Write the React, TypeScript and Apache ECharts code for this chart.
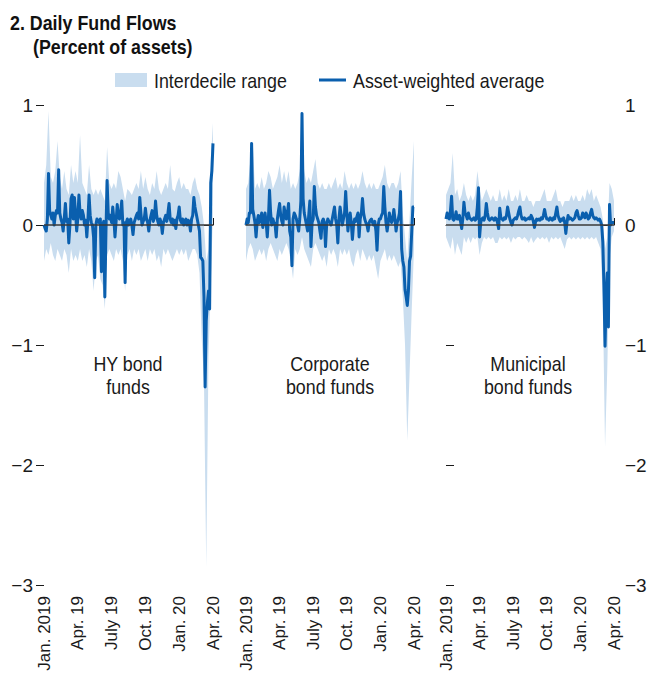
import React, { useEffect, useRef } from "react";
import * as echarts from "echarts";

// x is measured in months since Jan. 2019
const tickMonths = [0, 3, 6, 9, 12, 15];
const tickLabels = ["Jan. 2019", "Apr. 19", "July 19", "Oct. 19", "Jan. 20", "Apr. 20"];
const panelNames = ["HY bond\nfunds", "Corporate\nbond funds", "Municipal\nbond funds"];
const avgStep = 0.1; // months between average points
const bandStep = 0.2; // months between interdecile points

const hyAvg = [
  0.0, -0.03, -0.05, 0.05, 0.43, 0.12, 0.08, 0.05, 0.1, 0.0,
  0.08, 0.12, 0.1, 0.46, 0.1, 0.05, 0.02, -0.05, 0.06, 0.18,
  0.03, 0.05, -0.15, 0.0, 0.22, 0.25, 0.05, 0.23, 0.1, -0.05,
  0.05, 0.25, 0.1, 0.05, 0.12, 0.08, 0.0, 0.04, -0.1, 0.05,
  0.25, 0.08, 0.02, 0.0, -0.1, -0.44, 0.0, 0.05, 0.03, 0.02,
  0.05, -0.39, 0.0, 0.03, -0.6, -0.05, 0.37, 0.1, 0.05, 0.08,
  0.02, 0.15, 0.05, -0.1, 0.03, 0.17, 0.08, 0.05, 0.1, 0.2,
  0.0, 0.02, -0.48, 0.02, 0.05, 0.0, 0.03, 0.05, 0.0, -0.08,
  0.02, 0.05, 0.08, 0.1, 0.05, 0.23, 0.1, 0.0, 0.03, 0.05,
  0.14, 0.05, 0.02, -0.05, 0.04, 0.08, 0.12, 0.03, 0.06, 0.2,
  0.08, 0.03, 0.0, 0.05, 0.02, -0.07, 0.02, 0.05, 0.08, 0.03,
  0.1, 0.18, 0.05, 0.02, 0.05, 0.0, 0.04, -0.03, 0.05, 0.08,
  0.15, 0.04, 0.02, 0.05, 0.0, 0.03, 0.05, 0.0, 0.04, 0.02,
  -0.05, 0.05, 0.08, 0.23, 0.15, 0.1, 0.05, 0.0, -0.05, -0.27,
  -0.28, -0.3, -0.6, -1.35, -0.8, -0.65, -0.55, -0.7, 0.35, 0.45,
  0.68,
];
const hyHi = [
  0.35, 0.5, 0.95, 0.4, 0.35, 0.45, 0.7, 0.4, 0.3, 0.45,
  0.3, 0.25, 0.5, 0.35, 0.45, 0.35, 0.75, 0.35, 0.3, 0.25,
  0.5, 0.3, 0.25, 0.3, 0.25, 0.3, 0.25, 0.2, 0.65, 0.35,
  0.3, 0.35, 0.3, 0.45, 0.4, 0.3, 0.2, 0.3, 0.28, 0.25,
  0.3, 0.35, 0.3, 0.45, 0.3, 0.4, 0.3, 0.25, 0.35, 0.3,
  0.45, 0.3, 0.25, 0.3, 0.35, 0.3, 0.5, 0.3, 0.28, 0.35,
  0.4, 0.3, 0.35, 0.3, 0.3, 0.25, 0.35, 0.4, 0.3, 0.25,
  0.15, 0.0, -0.3, -0.2, 0.55, 0.85,
];
const hyLo = [
  -0.3, -0.2, -0.25, -0.15, -0.25, -0.3, -0.2, -0.25, -0.3, -0.2,
  -0.25, -0.4, -0.2, -0.3, -0.25, -0.3, -0.2, -0.3, -0.25, -0.35,
  -0.2, -0.3, -0.55, -0.3, -0.25, -0.45, -0.5, -0.7, -0.25, -0.2,
  -0.25, -0.3, -0.2, -0.25, -0.2, -0.3, -0.55, -0.25, -0.2, -0.3,
  -0.2, -0.25, -0.2, -0.3, -0.25, -0.2, -0.3, -0.2, -0.25, -0.2,
  -0.3, -0.25, -0.35, -0.2, -0.25, -0.2, -0.25, -0.3, -0.25, -0.2,
  -0.25, -0.2, -0.25, -0.2, -0.3, -0.25, -0.2, -0.2, -0.25, -0.4,
  -0.95, -1.3, -2.85, -1.1, -0.5, 0.1,
];

const corpAvg = [
  0.0, 0.05, 0.02, 0.1, 0.1, 0.68, 0.13, 0.08, 0.02, -0.1,
  0.03, 0.08, 0.02, 0.05, 0.1, -0.02, 0.04, 0.1, 0.02, -0.1,
  0.05, 0.29, 0.1, 0.0, 0.05, 0.02, 0.0, -0.1, 0.05, 0.12,
  0.18, 0.08, 0.03, 0.0, 0.15, 0.1, 0.05, 0.1, 0.18, -0.05,
  -0.1, -0.34, 0.05, 0.1, 0.08, 0.05, 0.0, -0.05, 0.05, 0.2,
  0.93, 0.22, 0.1, 0.05, 0.0, -0.05, 0.08, 0.2, -0.18, 0.02,
  0.05, 0.32, 0.15, 0.08, 0.05, 0.02, -0.05, -0.11, 0.03, 0.05,
  0.02, -0.18, 0.0, 0.05, 0.03, 0.02, 0.0, 0.05, 0.1, 0.15,
  0.05, 0.0, -0.15, 0.05, 0.15, 0.08, 0.0, 0.05, 0.1, 0.28,
  0.1, -0.05, 0.05, 0.1, 0.02, -0.12, 0.0, 0.05, 0.03, 0.07,
  0.1, -0.1, 0.05, 0.1, 0.22, 0.1, 0.05, 0.02, 0.0, -0.05,
  0.02, 0.04, 0.05, 0.02, 0.0, 0.03, -0.05, -0.21, 0.0, 0.05,
  0.05, 0.08, 0.1, 0.32, 0.15, 0.02, -0.05, 0.02, 0.1, 0.05,
  0.02, 0.05, 0.13, 0.05, -0.05, 0.02, 0.05, 0.1, 0.28, -0.2,
  -0.3, -0.35, -0.54, -0.6, -0.67, -0.55, -0.3, -0.26, -0.05, 0.15,
  0.15,
];
const corpHi = [
  0.3, 0.35, 0.55, 0.7, 0.3, 0.35, 0.3, 0.4, 0.3, 0.35,
  0.45, 0.4, 0.3, 0.35, 0.4, 0.5, 0.35, 0.45, 0.35, 0.45,
  0.3, 0.35, 0.3, 0.35, 0.45, 0.65, 0.45, 0.35, 0.4, 0.35,
  0.45, 0.55, 0.35, 0.3, 0.35, 0.3, 0.3, 0.35, 0.3, 0.35,
  0.4, 0.3, 0.35, 0.3, 0.45, 0.35, 0.3, 0.35, 0.3, 0.35,
  0.3, 0.35, 0.45, 0.35, 0.3, 0.35, 0.3, 0.35, 0.3, 0.3,
  0.35, 0.4, 0.5, 0.35, 0.3, 0.35, 0.35, 0.3, 0.35, 0.45,
  0.1, -0.1, -0.3, 0.05, 0.4, 0.7,
];
const corpLo = [
  -0.3, -0.2, -0.15, -0.2, -0.3, -0.25, -0.2, -0.25, -0.2, -0.3,
  -0.2, -0.15, -0.2, -0.25, -0.3, -0.2, -0.25, -0.2, -0.15, -0.2,
  -0.3, -0.45, -0.2, -0.25, -0.2, -0.1, -0.2, -0.25, -0.3, -0.35,
  -0.2, -0.15, -0.2, -0.25, -0.3, -0.25, -0.35, -0.2, -0.25, -0.2,
  -0.25, -0.35, -0.2, -0.25, -0.2, -0.25, -0.2, -0.3, -0.35, -0.25,
  -0.2, -0.3, -0.2, -0.25, -0.3, -0.25, -0.3, -0.25, -0.35, -0.45,
  -0.3, -0.25, -0.2, -0.3, -0.25, -0.3, -0.25, -0.3, -0.35, -0.3,
  -0.6, -1.0, -1.8, -1.25, -0.7, -0.2,
];

const muniAvg = [
  0.05, 0.1, 0.06, 0.05, 0.12, 0.24, 0.05, 0.04, 0.06, 0.11,
  0.05, 0.05, 0.08, 0.03, -0.03, 0.05, 0.19, 0.1, 0.08, 0.05,
  0.1, 0.06, 0.05, 0.04, 0.05, 0.06, 0.04, 0.05, 0.15, 0.31,
  -0.1, 0.02, 0.05, 0.06, 0.04, 0.08, 0.18, 0.1, 0.05, 0.04,
  0.05, 0.06, 0.05, 0.04, 0.06, 0.05, 0.02, -0.03, 0.14, 0.06,
  0.05, 0.04, 0.06, 0.05, 0.08, 0.15, 0.1, 0.05, 0.02, 0.0,
  0.04, 0.05, 0.06, 0.05, 0.08, 0.12, 0.15, 0.08, 0.05, 0.05,
  0.06, 0.04, 0.05, 0.05, 0.06, 0.05, 0.08, 0.06, 0.03, -0.02,
  0.03, 0.05, 0.04, 0.05, 0.04, 0.06, 0.05, 0.08, 0.13, 0.08,
  0.05, 0.05, 0.04, 0.06, 0.05, 0.04, 0.06, 0.05, 0.1, 0.15,
  0.08, 0.05, 0.03, 0.05, 0.04, 0.06, 0.02, -0.07, 0.02, 0.08,
  0.05, 0.06, 0.05, 0.04, 0.05, 0.06, 0.1, 0.12, 0.08, 0.05,
  0.05, 0.06, 0.1, 0.08, 0.06, 0.1, 0.08, 0.05, 0.06, 0.1,
  0.13, 0.08, 0.06, 0.05, 0.06, 0.05, 0.04, 0.05, 0.03, 0.0,
  -0.14, -0.5, -1.01, -0.6, -0.4, -0.85, 0.17, 0.0, 0.02, 0.02,
  0.02,
];
const muniHi = [
  0.25, 0.3, 0.35, 0.6, 0.25, 0.3, 0.2, 0.25, 0.35, 0.25,
  0.2, 0.25, 0.2, 0.25, 0.45, 0.3, 0.2, 0.25, 0.3, 0.25,
  0.2, 0.25, 0.2, 0.2, 0.3, 0.2, 0.25, 0.2, 0.3, 0.2,
  0.2, 0.25, 0.2, 0.3, 0.2, 0.2, 0.25, 0.2, 0.2, 0.15,
  0.2, 0.2, 0.2, 0.25, 0.3, 0.2, 0.2, 0.2, 0.25, 0.3,
  0.2, 0.2, 0.15, 0.2, 0.2, 0.2, 0.25, 0.2, 0.25, 0.2,
  0.2, 0.25, 0.2, 0.3, 0.25, 0.3, 0.2, 0.25, 0.2, 0.15,
  0.05, -0.2, -0.1, 0.35, 0.3, 0.2,
];
const muniLo = [
  -0.1, -0.15, -0.2, -0.1, -0.25, -0.15, -0.2, -0.25, -0.1, -0.15,
  -0.1, -0.15, -0.1, -0.12, -0.1, -0.25, -0.15, -0.1, -0.12, -0.1,
  -0.12, -0.1, -0.15, -0.15, -0.1, -0.12, -0.1, -0.12, -0.1, -0.15,
  -0.1, -0.12, -0.1, -0.1, -0.12, -0.1, -0.12, -0.15, -0.1, -0.15,
  -0.12, -0.1, -0.12, -0.1, -0.12, -0.1, -0.15, -0.1, -0.12, -0.1,
  -0.12, -0.1, -0.15, -0.2, -0.12, -0.1, -0.12, -0.1, -0.12, -0.1,
  -0.12, -0.1, -0.12, -0.1, -0.12, -0.1, -0.12, -0.1, -0.15, -0.2,
  -0.6, -1.85, -1.2, -0.3, -0.1, -0.05,
];

const panels = [
  { avg: hyAvg, hi: hyHi, lo: hyLo },
  { avg: corpAvg, hi: corpHi, lo: corpLo },
  { avg: muniAvg, hi: muniHi, lo: muniLo },
];

const FONT = '"Liberation Sans", Arial, sans-serif';
const BAND = "#c9ddef";
const LINE = "#0a5fae";
const INK = "#1a1a1a";
const SQUEEZE = 0.85; // horizontal condensing of free texts

const gridLefts = [44, 246, 446];
const gridWidths = [169, 168, 168];
const labelCenters = [128, 330, 528];

function buildOption(): any {
  const grid = gridLefts.map((left, i) => ({
    left,
    top: 105,
    width: gridWidths[i],
    height: 480,
    containLabel: false,
    outerBoundsMode: "none",
  }));

  const xAxis = gridLefts.map((_, i) => ({
    type: "value",
    gridIndex: i,
    min: 0,
    max: 15,
    interval: 3,
    axisLine: { show: true, lineStyle: { color: INK, width: 1 } },
    axisTick: { show: true, inside: true, length: 7, lineStyle: { color: INK, width: 1 } },
    splitLine: { show: false },
    axisLabel: {
      rotate: 90,
      margin: 11,
      fontSize: 17,
      color: INK,
      fontFamily: FONT,
      formatter: (v: number) => {
        const k = tickMonths.indexOf(Math.round(v));
        return k >= 0 ? tickLabels[k] : "";
      },
    },
  }));

  const yAxis = gridLefts.map((_, i) => ({
    type: "value",
    gridIndex: i,
    min: -3,
    max: 1,
    interval: 1,
    position: i === 2 ? "right" : "left",
    axisLine: { show: false },
    axisTick: {
      show: i !== 1,
      length: 8,
      lineStyle: { color: INK, width: 1 },
    },
    splitLine: { show: false },
    axisLabel: {
      show: i !== 1,
      margin: 11,
      fontSize: 19,
      color: INK,
      fontFamily: FONT,
      formatter: (v: number) => String(v).replace("-", "\u2212"),
    },
  }));

  const series: any[] = [];
  panels.forEach((p, i) => {
    const bandData = p.lo.map((v, k) => [k * bandStep, v, p.hi[k]]);
    series.push({
      type: "custom",
      name: "Interdecile range",
      xAxisIndex: i,
      yAxisIndex: i,
      silent: true,
      z: 1,
      data: bandData,
      encode: { x: 0, y: [1, 2] },
      renderItem: (params: any, api: any) => {
        if (params.dataIndex !== 0) return null;
        const top = p.hi.map((v, k) => api.coord([k * bandStep, v]));
        const bot = p.lo.map((v, k) => api.coord([k * bandStep, v])).reverse();
        return {
          type: "polygon",
          shape: { points: top.concat(bot) },
          style: { fill: BAND, stroke: null },
        };
      },
    });
    series.push({
      type: "line",
      name: "Asset-weighted average",
      xAxisIndex: i,
      yAxisIndex: i,
      z: 2,
      silent: true,
      showSymbol: false,
      symbol: "none",
      data: p.avg.map((v, k) => [k * avgStep, v]),
      lineStyle: { color: LINE, width: 3, join: "round" },
    });
    series.push({
      type: "line",
      name: "zero",
      xAxisIndex: i,
      yAxisIndex: i,
      z: 3,
      silent: true,
      showSymbol: false,
      symbol: "none",
      data: [
        [0, 0],
        [15, 0],
      ],
      lineStyle: { color: "#3a3a3a", width: 1.5 },
    });
  });

  const txt = (text: string, x: number, y: number, extra: any = {}) => ({
    type: "text",
    x,
    y,
    scaleX: SQUEEZE,
    z: 10,
    style: { text, fontFamily: FONT, fontSize: 21, fill: INK, ...extra },
  });

  const graphic: any[] = [
    txt("2. Daily Fund Flows", 10, 12, { fontWeight: "bold", fill: "#111", verticalAlign: "top" }),
    txt("(Percent of assets)", 33, 36, { fontWeight: "bold", fill: "#111", verticalAlign: "top" }),
    { type: "rect", shape: { x: 115, y: 73, width: 32, height: 14 }, style: { fill: BAND } },
    txt("Interdecile range", 154, 80, { verticalAlign: "middle" }),
    { type: "line", shape: { x1: 319, y1: 80, x2: 346, y2: 80 }, style: { stroke: LINE, lineWidth: 3 } },
    txt("Asset-weighted average", 353, 80, { verticalAlign: "middle" }),
  ];
  panelNames.forEach((name, i) => {
    graphic.push(
      txt(name, labelCenters[i], 352, { lineHeight: 23, align: "center", verticalAlign: "top" })
    );
  });

  return { animation: false, grid, xAxis, yAxis, series, graphic };
}

export default function App() {
  const ref = useRef<HTMLDivElement>(null);
  useEffect(() => {
    document.body.style.margin = "0";
    if (!ref.current) return;
    const chart = echarts.init(ref.current, undefined, { renderer: "svg" });
    chart.setOption(buildOption());
    return () => chart.dispose();
  }, []);
  return <div ref={ref} style={{ width: 649, height: 677, background: "#fff" }} />;
}
